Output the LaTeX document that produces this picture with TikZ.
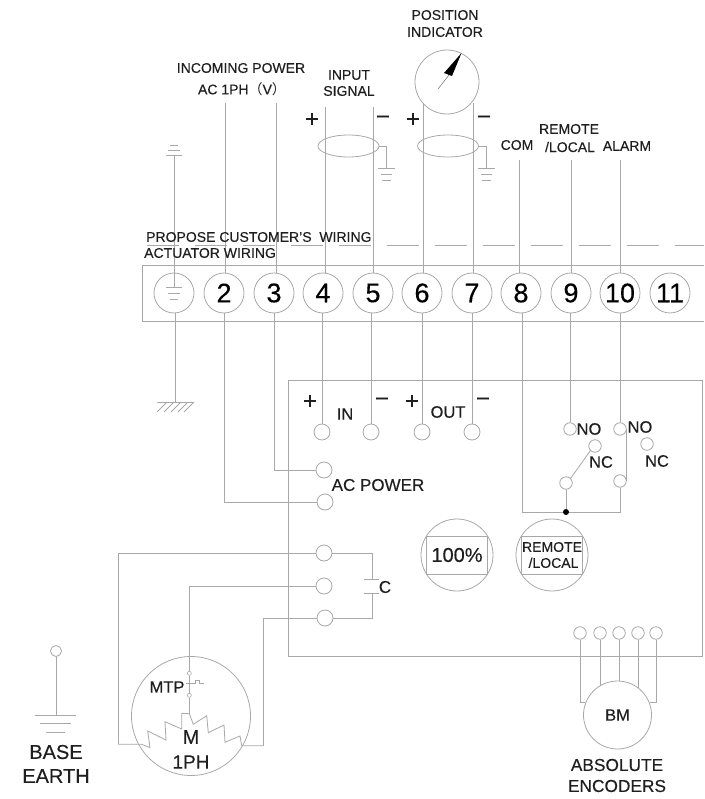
\documentclass[tikz,border=0pt]{standalone}
\usepackage{fontspec}
\setmainfont{Liberation Sans}[FakeBold=0.3]
\newfontfamily\cjkf{Noto Sans CJK SC}
\usetikzlibrary{shapes.geometric,calc}
\newcommand\fsz[1]{\fontsize{#1}{#1}\selectfont}
\definecolor{wirec}{gray}{0.66}
\definecolor{ink}{gray}{0.12}
\tikzset{
  wire/.style={draw=wirec,line width=0.8pt,line join=miter},
  lab/.style={text=ink,inner sep=0pt,font=\fsz{14}},
  labm/.style={text=ink,inner sep=0pt,font=\fsz{16.5}},
  sign/.style={text=ink,inner sep=0pt,font=\fsz{24}},
  term/.style={circle,draw=wirec,line width=0.8pt,minimum size=40pt,inner sep=0pt,text=black,font=\fsz{27}},
  contact/.style={circle,draw=wirec,line width=0.8pt,minimum size=16pt,inner sep=0pt},
  relay/.style={circle,draw=wirec,line width=0.8pt,minimum size=12.5pt,inner sep=0pt},
  tiny/.style={circle,draw=wirec,line width=0.6pt,minimum size=4pt,inner sep=0pt},
  dial/.style={circle,draw=wirec,line width=0.8pt,minimum size=72pt,inner sep=0pt,text=ink},
  shield/.style={ellipse,draw=wirec,line width=0.8pt,minimum width=61pt,minimum height=22pt,inner sep=0pt},
}
\begin{document}
\begin{tikzpicture}[x=1pt,y=-1pt]
\useasboundingbox (0,0) rectangle (704,799);
% terminal block
\draw[wire] (704,265) -- (142,265) -- (142,321) -- (704,321);
\coordinate (dashL) at (147,245);
\coordinate (dashR) at (704,245);
\draw[wire,dash pattern=on 32pt off 16pt] (dashL) -- (dashR);
\node[term] (t1) at (174,293) {};
\node[term] (t2) at (224,293) {2};
\node[term] (t3) at (274,293) {3};
\node[term] (t4) at (323,293) {4};
\node[term] (t5) at (373,293) {5};
\node[term] (t6) at (422,293) {6};
\node[term] (t7) at (472,293) {7};
\node[term] (t8) at (521,293) {8};
\node[term] (t9) at (571,293) {9};
\node[term] (t10) at (620,293) {10};
\node[term] (t11) at (670,293) {11};
% earth in terminal 1
\coordinate (gt) at (174,287);
\draw[wire] (166,287) -- (182,287) (168,293) -- (180,293) (170,299) -- (178,299);
% customer earth
\coordinate (ge) at (174,155.5);
\draw[wire] (ge) -- (gt);
\draw[wire] (166,155.5) -- (182,155.5) (168,150) -- (180,150) (170,145) -- (178,145);
% protective earth below
\coordinate (pe) at (175,402);
\draw[wire] (pe |- t1.south) -- (pe);
\draw[wire] (157,402) -- (194,402);
\foreach \hx in {167,174,181,188,194} \draw[wire] (\hx,402) -- (\hx-10,412);
% top wires
\coordinate (w2) at (225,103);
\coordinate (w3) at (276,103);
\coordinate (w4) at (325,107);
\coordinate (w5) at (373,107);
\coordinate (w8) at (519,160);
\coordinate (w9) at (571,160);
\coordinate (w10) at (620,160);
\draw[wire] (w2) -- (w2 |- t2.north);
\draw[wire] (w3) -- (w3 |- t3.north);
\draw[wire] (w4) -- (w4 |- t4.north);
\draw[wire] (w5) -- (w5 |- t5.north);
\draw[wire] (w8) -- (w8 |- t8.north);
\draw[wire] (w9) -- (w9 |- t9.north);
\draw[wire] (w10) -- (w10 |- t10.north);
% position indicator
\node[circle,draw=wirec,line width=0.8pt,minimum size=64pt,inner sep=0pt] (pi) at (447,82) {};
\coordinate (w6) at (423,103);
\coordinate (w7) at (473,103);
\draw[wire] (w6) -- (w6 |- t6.north);
\draw[wire] (w7) -- (w7 |- t7.north);
\coordinate (nb) at (438,89);
\coordinate (nm) at (449,75);
\draw[draw=gray,line width=0.6pt] (nb) -- (nm);
\fill[black] (461.5,53) -- (444,73) -- (452,76) -- cycle;
% shields
\node[shield] (s1) at (348.5,146) {};
\node[shield] (s2) at (448,146) {};
\coordinate (sg1) at (386,168);
\coordinate (sg2) at (486,168);
\draw[wire] (s1.east) -| (sg1);
\draw[wire] (s2.east) -| (sg2);
\draw[wire] (378,168) -- (395,168) (381,174) -- (392,174) (382,180) -- (391,180);
\draw[wire] (478,168) -- (495,168) (481,174) -- (492,174) (482,180) -- (491,180);
% top labels
\node[lab] at (241,68) {INCOMING POWER};
\node[lab] at (242,89) {AC 1PH{\cjkf （}V{\cjkf ）}};
\node[lab] at (349,75) {INPUT};
\node[lab] at (349,91) {SIGNAL};
\node[lab] at (445,15) {POSITION};
\node[lab] at (445,32) {INDICATOR};
\node[sign] at (312,120) {+};
\node[sign] at (383,120) {−};
\node[sign] at (413,120) {+};
\node[sign] at (484,120) {−};
\node[lab] at (517,145) {COM};
\node[lab] at (569,129) {REMOTE};
\node[lab] at (570,147) {/LOCAL};
\node[lab] at (627,146) {ALARM};
\node[lab,anchor=west] at (146,237) {PROPOSE CUSTOMER'S\hspace{0.278em} WIRING};
\node[lab,anchor=west] at (144,253) {ACTUATOR WIRING};
% actuator box
\draw[wire] (288,380) rectangle (702,656);
\node[contact] (in1) at (322,432) {};
\node[contact] (in2) at (371,432) {};
\node[contact] (out1) at (422,432) {};
\node[contact] (out2) at (472,432) {};
\node[contact] (ac1) at (324,470) {};
\node[contact] (ac2) at (325,502) {};
\node[contact] (m1) at (324,553) {};
\node[contact] (m2) at (324,586) {};
\node[contact] (m3) at (325,618) {};
\draw[wire] (in1 |- t4.south) -- (in1.north);
\draw[wire] (in2 |- t5.south) -- (in2.north);
\draw[wire] (out1 |- t6.south) -- (out1.north);
\draw[wire] (out2 |- t7.south) -- (out2.north);
\draw[wire] (t3.south) |- (ac1.west);
\draw[wire] (t2.south) |- (ac2.west);
\node[sign] at (310,402) {+};
\node[labm] at (345,414) {IN};
\node[sign] at (382,402) {−};
\node[sign] at (412,402) {+};
\node[labm] at (448,412) {OUT};
\node[sign] at (483,402) {−};
\node[text=ink,inner sep=0pt,font=\fsz{17}] at (378,485) {AC POWER};
% capacitor
\coordinate (capa) at (372,579);
\coordinate (capb) at (372,593);
\draw[wire] (m1.east) -| (capa);
\draw[wire] (m3.east) -| (capb);
\draw[wire] (364,579) -- (379,579) (364,593) -- (379,593);
\node[text=ink,inner sep=0pt,font=\fsz{17}] at (385,587) {C};
% dials
\node[dial,font=\fsz{20}] (d1) at (457,555) {100\%};
\draw[wire] ([shift={(-30.6,-19)}]d1.center) rectangle ([shift={(30.6,19)}]d1.center);
\node[dial,font=\fsz{14},align=center] (d2) at (552,555) {REMOTE\\[2pt]\hspace{3pt}/LOCAL};
\draw[wire] ([shift={(-30.6,-19)}]d2.center) rectangle ([shift={(30.6,19)}]d2.center);
% relays
\node[relay] (no1) at (570,429) {};
\node[relay] (nc1) at (595,446) {};
\node[relay] (sw1) at (566,483) {};
\node[relay] (no2) at (620,429) {};
\node[relay] (nc2) at (647,444) {};
\node[relay] (sw2) at (620,481) {};
\node[labm] at (589,429) {NO};
\node[labm] at (601,462) {NC};
\node[labm] at (640,427) {NO};
\node[labm] at (657,461) {NC};
\coordinate (bl) at (522,512);
\coordinate (br) at (620,512);
\draw[wire] (bl |- t8.south) -- (bl) -- (br) -- (sw2.south);
\draw[wire] (no1 |- t9.south) -- (no1.north);
\draw[wire] (no2 |- t10.south) -- (no2.north);
\draw[wire] (no2.east) -- (no2.east |- sw2.east);
\draw[wire] (sw1.north east) -- (nc1.south west);
\node[circle,fill=black,minimum size=6pt,inner sep=0pt] (dot) at (566,512) {};
\draw[wire] (sw1.south) -- (dot.north);
% motor
\node[circle,draw=wirec,line width=0.8pt,minimum size=119pt,inner sep=0pt] (mot) at (191,716) {};
\node[tiny] (ta) at (189.3,673.3) {};
\node[tiny] (tb) at (189.3,695.3) {};
\coordinate (zl) at (118,744.3);
\coordinate (zr) at (263.3,745.7);
\coordinate (zt) at (189.3,713.7);
\draw[wire] (m2.west) -| (ta.north);
\draw[wire] (ta.south) -- (tb.north);
\draw[wire] (tb.south) -- (zt);
\draw[wire] (m1.west) -| (zl);
\draw[wire] (m3.west) -| (zr);
\draw[wire] (zl) -- (141.7,744.3) -- (150,747.7) -- (147.7,731) -- (166,740) -- (165,721.7) -- (181.7,729) -- (181.7,713.3) -- (zt) -- (193.3,724.3) -- (206.7,715.7) -- (208.3,732.7) -- (224,725) -- (225,742.3) -- (240,736) -- (241.7,745.7) -- (zr);
\draw[wire,line width=0.6pt] (186,683.3) -- (195,683.3) -- (195,680.5) -- (199,680.5) -- (199,683.3) -- (204,683.3);
\node[labm] at (167,687) {MTP};
\node[text=ink,inner sep=0pt,font=\fsz{20}] at (191,737) {M};
\node[text=ink,inner sep=0pt,font=\fsz{19}] at (191,762) {1PH};
% base earth
\node[circle,draw=wirec,line width=0.8pt,minimum size=11pt,inner sep=0pt] (be) at (56,651) {};
\coordinate (beg) at (56,715);
\draw[wire] (be.south) -- (beg);
\draw[wire] (35,715) -- (76,715) (40,723) -- (71,723) (46,732) -- (65,732);
\node[text=ink,inner sep=0pt,font=\fsz{20}] at (56,752) {BASE};
\node[text=ink,inner sep=0pt,font=\fsz{20}] at (56,776) {EARTH};
% encoders
\node[relay] (e1) at (580,633) {};
\node[relay] (e2) at (600,633) {};
\node[relay] (e3) at (619,633) {};
\node[relay] (e4) at (638,633) {};
\node[relay] (e5) at (656,633) {};
\node[circle,draw=wirec,line width=0.8pt,minimum size=68pt,inner sep=0pt,text=ink,font=\fsz{16.5}] (enc) at (617.5,715) {BM};
\draw[wire] (e1.south) |- (enc.159);
\draw[wire] (e2.south) -- (e2.south |- enc.121);
\draw[wire] (e3.south) -- (e3.south |- enc.north);
\draw[wire] (e4.south) -- (e4.south |- enc.53);
\draw[wire] (e5.south) |- (enc.21);
\node[text=ink,inner sep=0pt,font=\fsz{17.3}] at (617,765) {ABSOLUTE};
\node[text=ink,inner sep=0pt,font=\fsz{17.3}] at (617,786) {ENCODERS};
\end{tikzpicture}
\end{document}
